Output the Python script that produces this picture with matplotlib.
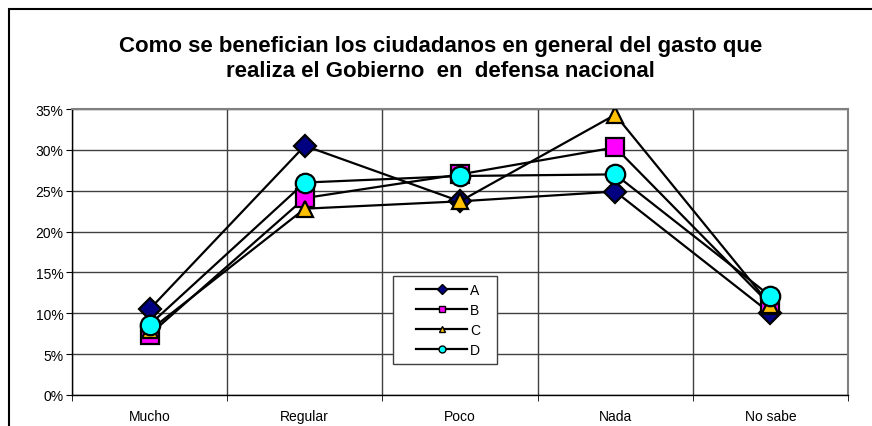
import matplotlib
matplotlib.use('Agg')
import matplotlib.pyplot as plt
from matplotlib.patches import Rectangle
from matplotlib.lines import Line2D
from matplotlib.ticker import FixedLocator, PercentFormatter

plt.rcParams['font.family'] = ['Liberation Sans', 'DejaVu Sans']

# datos
categorias = ['Mucho', 'Regular', 'Poco', 'Nada', 'No sabe']
serie_a = [10.5, 30.5, 23.7, 24.9, 10.0]
serie_b = [7.4, 24.1, 27.0, 30.3, 11.0]
serie_c = [7.9, 22.8, 23.7, 34.3, 11.0]
serie_d = [8.6, 26.0, 26.8, 27.0, 12.1]
nombres = ['A', 'B', 'C', 'D']
titulo = ('Como se benefician los ciudadanos en general del gasto que\n'
          'realiza el Gobierno  en  defensa nacional')
yticks = [0, 5, 10, 15, 20, 25, 30, 35]

fig = plt.figure(figsize=(8.72, 4.27), dpi=100)
ax = fig.add_axes([72/872, 1 - 396/427, 776/872, 286/427])

# marco exterior del grafico
fig.patches.append(Rectangle((9/872, -0.1), 1.0, 1 - 10/427 + 0.1,
                             transform=fig.transFigure, fill=False,
                             edgecolor='black', linewidth=1.5))

estilos = [
    dict(marker='D', mfc='#000080', ms=11),
    dict(marker='s', mfc='#ff00ff', ms=13),
    dict(marker='^', mfc='#ffc000', ms=12),
    dict(marker='o', mfc='#00ffff', ms=14),
]
x = list(range(len(categorias)))
for vals, nombre, est in zip([serie_a, serie_b, serie_c, serie_d], nombres, estilos):
    ax.plot(x, vals, color='black', linewidth=1.6, mec='black', mew=1.6,
            label=nombre, zorder=3, **est)

ax.set_xlim(-0.5, len(categorias) - 0.5)
ax.set_ylim(0, 35)
ax.set_yticks(yticks)
ax.yaxis.set_major_formatter(PercentFormatter(decimals=0))
ax.set_xticks(x)
ax.set_xticklabels(categorias)
ax.xaxis.set_minor_locator(FixedLocator([i - 0.5 for i in range(len(categorias) + 1)]))
ax.tick_params(axis='x', which='major', length=0, labelsize=10, pad=10)
ax.tick_params(axis='x', which='minor', length=4, direction='out', color='black')
ax.tick_params(axis='y', length=4, direction='out', labelsize=10, color='black', pad=2)

ax.grid(axis='y', which='major', color='#404040', linewidth=1)
ax.grid(axis='x', which='minor', color='#404040', linewidth=1)
ax.set_axisbelow(True)

for lado in ['top', 'right']:
    ax.spines[lado].set_color('#808080')
    ax.spines[lado].set_linewidth(1.5)
for lado in ['left', 'bottom']:
    ax.spines[lado].set_color('black')
    ax.spines[lado].set_linewidth(1)

# caja de la leyenda (estilo Excel, mas ancha que su contenido)
ax.add_patch(Rectangle((0.4137, 0.108), 0.134, 0.3077, transform=ax.transAxes,
                       facecolor='white', edgecolor='#404040', linewidth=1,
                       zorder=4))
handles = [Line2D([0], [0], color='black', linewidth=1.6, marker=est['marker'],
                  mfc=est['mfc'], mec='black', mew=1, ms=5) for est in estilos]
leg = ax.legend(handles, nombres, loc='upper left', bbox_to_anchor=(0.4433, 0.3916),
                frameon=False, fontsize=10, handlelength=3.7, handletextpad=0.2,
                labelspacing=0.42, borderpad=0, borderaxespad=0)
leg.set_zorder(5)

fig.text(0.505, 0.861, titulo, ha='center', va='center', fontsize=16,
         fontweight='bold', linespacing=1.25)

fig.savefig('out.png', dpi=100)
